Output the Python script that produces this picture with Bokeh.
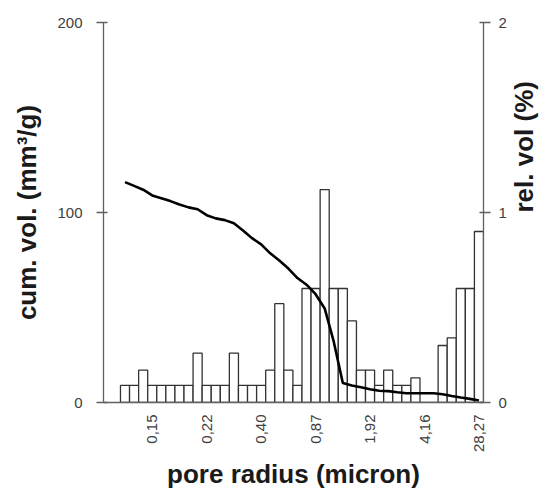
import math
from bokeh.plotting import figure
from bokeh.models import Range1d, LinearAxis, FixedTicker, Axis
from bokeh.embed import file_html
from bokeh.resources import INLINE

# ---- data ----
bar_index = list(range(1, 41))
rel_vol = [0.09, 0.09, 0.17, 0.09, 0.09, 0.09, 0.09, 0.09, 0.26, 0.09,
           0.09, 0.09, 0.26, 0.09, 0.09, 0.09, 0.17, 0.52, 0.17, 0.09,
           0.60, 0.60, 1.12, 0.60, 0.60, 0.43, 0.17, 0.17, 0.09, 0.17,
           0.09, 0.09, 0.13, 0.0, 0.0, 0.30, 0.34, 0.60, 0.60, 0.90]
cum_vol = [116, 114, 112, 109, 107.5, 106, 104.2, 102.7, 101.7, 98.6,
           96.9, 96, 94.3, 90.5, 86.5, 83.2, 78.5, 74.7, 70.5, 65.5,
           62, 57, 49.5, 32, 10.3, 9, 8, 7, 6.2, 6,
           5.4, 4.9, 4.9, 4.9, 4.9, 4.3, 3.4, 2.6, 1.9, 1.1]
tick_positions = [4, 10, 16, 22, 28, 34, 40]
tick_labels = ["0,15", "0,22", "0,40", "0,87", "1,92", "4,16", "28,27"]
left_ticks = [0, 100, 200]
right_ticks = [0, 1, 2]

FONT = "Liberation Sans"
AXIS_COL = "#606060"
TICK_COL = "#404040"

p = figure(width=557, height=493, output_backend="svg", toolbar_location=None,
           x_range=Range1d(-1.37, 40.5), y_range=Range1d(0, 200),
           min_border_left=103, min_border_right=74, min_border_top=22,
           min_border_bottom=91)
p.extra_y_ranges = {"rel": Range1d(0, 2)}
p.grid.visible = False
p.outline_line_color = None
p.background_fill_color = "white"
p.border_fill_color = "white"

p.vbar(x=bar_index, top=rel_vol, bottom=0, width=1, y_range_name="rel",
       fill_color="white", line_color="#333333", line_width=1.3)
p.line(bar_index, cum_vol, line_color="black", line_width=2.6)

def style_axis(ax):
    ax.axis_line_color = AXIS_COL
    ax.axis_line_width = 1.3
    ax.major_tick_line_color = AXIS_COL
    ax.major_tick_line_width = 1.3
    ax.minor_tick_line_color = None
    ax.major_label_text_font = FONT
    ax.major_label_text_font_size = "15px"
    ax.major_label_text_color = TICK_COL
    ax.axis_label_text_font = FONT
    ax.axis_label_text_font_size = "26px"
    ax.axis_label_text_font_style = "bold"
    ax.axis_label_text_color = "#1a1a1a"

# x axis
xa = p.xaxis[0]
style_axis(xa)
xa.ticker = FixedTicker(ticks=tick_positions)
xa.major_label_overrides = {t: l for t, l in zip(tick_positions, tick_labels)}
xa.major_label_orientation = math.pi / 2
xa.major_tick_out = 0
xa.major_tick_in = 0
xa.major_label_standoff = 12
xa.axis_label = "pore radius (micron)"
xa.axis_label_standoff = 4

# left axis
ya = p.yaxis[0]
style_axis(ya)
ya.ticker = FixedTicker(ticks=left_ticks)
ya.major_tick_out = 7
ya.major_tick_in = 4
ya.major_label_standoff = 14
ya.axis_label = "cum. vol. (mm³/g)"
ya.axis_label_standoff = 12

# right axis (ticks only)
ra = LinearAxis(y_range_name="rel", ticker=FixedTicker(ticks=right_ticks))
style_axis(ra)
ra.major_tick_out = 7
ra.major_tick_in = 4
ra.major_label_standoff = 8
p.add_layout(ra, "right")

# right axis title: a tickless axis whose bounds centre the title below mid-height
ta = LinearAxis(y_range_name="rel", ticker=FixedTicker(ticks=[]), bounds=(0.1, 1.44))
style_axis(ta)
ta.axis_line_color = None
ta.major_tick_line_color = None
ta.major_tick_out = 0
ta.major_tick_in = 0
ta.axis_label = "rel. vol (%)"
ta.axis_label_standoff = 14
if "axis_label_orientation" in Axis.properties():
    ta.axis_label_orientation = math.pi / 2
p.add_layout(ta, "right")

open("out.html", "w").write(file_html(p, INLINE))
